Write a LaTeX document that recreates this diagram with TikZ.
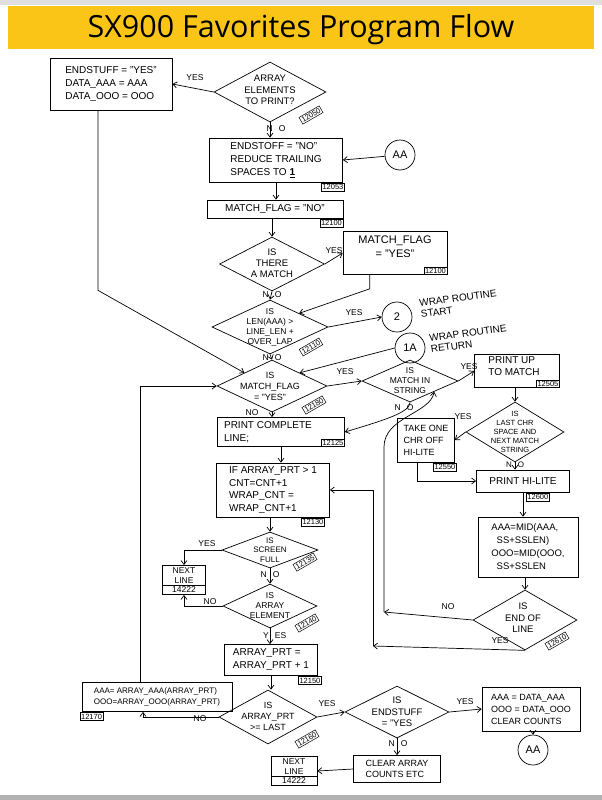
\documentclass[tikz,border=0pt]{standalone}
\usepackage{fontspec}
\setmainfont{Liberation Sans}
\newfontfamily\titlefont{Open Sans}
\usetikzlibrary{shapes.geometric,shapes.multipart,arrows.meta,calc}
\definecolor{gold}{RGB}{251,197,24}
\newcommand\hf[2]{\fontsize{#1}{#2}\selectfont}
\begin{document}
\begin{tikzpicture}[x=1pt,y=-1pt,
  ln/.style={line width=0.7pt},
  arr/.style={ln,-{Straight Barb[length=4pt,width=6pt]}},
  box/.style={draw,ln,inner sep=2pt,align=left,font=\hf{10}{13}},
  frame/.style={draw,ln,inner sep=0pt},
  btxt/.style={align=left,inner sep=0pt,font=\hf{10}{12.5}},
  dia/.style={draw,ln,diamond,inner sep=0pt},
  dtxt/.style={align=center,inner sep=0pt,font=\hf{8.5}{10}},
  tag/.style={draw,line width=0.5pt,inner sep=1.2pt,font=\hf{7.5}{8}},
  lbl/.style={inner sep=0pt,font=\hf{8.5}{10}},
  circ/.style={draw,ln,circle,minimum size=30pt,inner sep=0pt,font=\hf{11}{12}},
  note/.style={align=left,inner sep=0pt,font=\hf{10}{11}},
  split/.style={draw,ln,rectangle split,rectangle split parts=2,align=center,inner sep=1.5pt,font=\hf{8.5}{10}}
]
\useasboundingbox (0,0) rectangle (602,800);
\fill[white] (0,0) rectangle (602,800);
\fill[gray!25] (0,0) rectangle (602,5);
\fill[gray!60] (0,795) rectangle (602,800);
% title
\fill[gold] (8,6) rectangle (594,49);
\node[font=\titlefont\hf{30.5}{32},inner sep=0pt] (title) at (301,30) {SX900 Favorites Program Flow};

% top
\node[box,minimum width=122pt,minimum height=52pt] (n1) at (111,84) {ENDSTUFF = "YES"\\DATA\_AAA = AAA\\DATA\_OOO = OOO};
\node[dia,minimum width=112pt,minimum height=60pt] (d1) at (270,92) {};
\node[dtxt,font=\hf{9.5}{11.5}] (d1t) at (270,90) {ARRAY\\ELEMENTS\\TO PRINT?};
\node[tag,rotate=30] (d1n) at (311,115) {12050};
\node[lbl] (y1) at (195,78) {YES};
\draw[arr] (d1.west) -- (n1.east);
\node[lbl] (no1) at (276,129) {N\hspace{6pt}O};

\node[box,minimum width=133pt,minimum height=44pt] (b2) at (276,160) {ENDSTOFF = "NO"\\REDUCE TRAILING\\SPACES TO \underline{\textbf{1}}};
\node[tag,anchor=north east] (b2n) at ([xshift=2pt,yshift=-0.5pt]b2.south east) {12053};
\draw[arr] (d1.south) -- (d1.south |- b2.north);
\node[circ] (aa1) at (400,155) {AA};
\draw[arr] (aa1) -- (b2.east);

\node[box,minimum width=136pt,minimum height=18pt,align=center] (b3) at (275,209) {MATCH\_FLAG = "NO"};
\node[tag,anchor=north east] (b3n) at ([yshift=-0.5pt]b3.south east) {12100};
\draw[arr] (b2.south) -- (b2.south |- b3.north);

% there a match
\node[dia,minimum width=105pt,minimum height=54pt] (d2) at (272,264) {};
\node[dtxt,font=\hf{9.5}{11}] (d2t) at (272,263) {IS\\THERE\\A MATCH};
\draw[arr] (b3.south -| d2.north) -- (d2.north);
\node[frame,minimum width=104pt,minimum height=43pt] (b4) at (395,253) {};
\node[align=center,inner sep=0pt,font=\hf{11}{14}] (b4t) at (395,247) {MATCH\_FLAG\\= "YES"};
\node[tag,anchor=south east] (b4n) at (b4.south east) {12100};
\node[lbl] (y2) at (334,251) {YES};
\draw[arr] (d2.east) -- (b4.west);
\node[lbl] (no2) at (272,295) {N\hspace{6pt}O};

% len
\node[dia,minimum width=116pt,minimum height=54pt] (d3) at (270,327) {};
\node[dtxt] (d3t) at (270,327) {IS\\LEN(AAA) \textgreater\\LINE\_LEN +\\OVER\_LAP};
\node[tag,rotate=30] (d3n) at (311,347) {12110};
\draw[arr] (d2.south) -- (d3.north);
\draw[arr] ([xshift=27pt]b4.south west) -- ++(0,14) -- (d3.north east);
\node[circ] (c2) at (397,317) {2};
\node[lbl] (y3) at (354,313) {YES};
\draw[arr] (d3.east) -- (c2.west);
\node[note,rotate=8,anchor=west] (w1) at (420,309) {WRAP ROUTINE\\START};
\node[lbl] (no3) at (272,358) {N\hspace{6pt}O};

% match flag yes
\node[dia,minimum width=110pt,minimum height=52pt] (d4) at (272,386) {};
\node[dtxt,font=\hf{9}{11}] (d4t) at (270,386) {IS\\MATCH\_FLAG\\= "YES"};
\node[tag,rotate=30] (d4n) at (314,405) {12180};
\draw[arr] (d3.south) -- (d4.north);
\node[circ] (c1a) at (410,348) {1A};
\node[note,rotate=8,anchor=west] (w2) at (430,344) {WRAP ROUTINE\\RETURN};
\draw[arr] (c1a.west) -- (d4.north east);
\draw[arr] ([xshift=-13pt]n1.south) -- ++(0,180) -- (d4.north west);

% match in string
\node[dia,minimum width=96pt,minimum height=42pt] (d5) at (410,381) {};
\node[dtxt] (d5t) at (410,381) {IS\\MATCH IN\\STRING};
\node[lbl] (y4) at (345,372) {YES};
\draw[arr] (d4.east) -- (d5.west);
\node[frame,minimum width=85pt,minimum height=33pt] (b5) at (517,371) {};
\node[btxt] (b5t) at (514,366) {PRINT UP\\TO MATCH};
\node[tag,anchor=south east] (b5n) at (b5.south east) {12505};
\node[lbl] (y5) at (469,367) {YES};
\draw[arr] (d5.east) -- (b5.west);

% last chr
\node[dia,minimum width=98pt,minimum height=60pt] (d6) at (515,432) {};
\node[dtxt,font=\hf{7.5}{8.8}] (d6t) at (515,432) {IS\\LAST CHR\\SPACE AND\\NEXT MATCH\\STRING};
\draw[arr] (b5.south -| d6.north) -- (d6.north);
\node[box,minimum width=57pt,minimum height=44pt,font=\hf{9}{12}] (b6) at (426,440) {TAKE ONE\\CHR OFF\\HI-LITE};
\node[tag,anchor=north east] (b6n) at ([xshift=2pt,yshift=-0.5pt]b6.south east) {12550};
\node[lbl] (y6) at (463,417) {YES};
\draw[arr] (d6.west) -- (b6.east);
\node[box,minimum width=93pt,minimum height=22pt,align=center] (b7) at (523,481) {PRINT HI-LITE};
\node[tag,anchor=north west] (b7n) at ([xshift=3pt,yshift=-0.5pt]b7.south) {12600};
\node[lbl,font=\hf{8}{9}] (no6) at (515,465) {N\hspace{6pt}O};
\draw[arr] (d6.south) -- (d6.south |- b7.north);
\draw[arr] ([xshift=20pt]b6.south west) |- (b7.west);

\node[box,minimum width=100pt,minimum height=60pt,font=\hf{9.5}{13}] (b8) at (528,547) {AAA=MID(AAA,\\\ \ SS+SSLEN)\\OOO=MID(OOO,\\\ \ SS+SSLEN};
\draw[arr] (b7.south) -- (b7.south |- b8.north);

% end of line
\node[dia,minimum width=104pt,minimum height=60pt] (d7) at (525,620) {};
\node[dtxt,font=\hf{9.5}{11.5}] (d7t) at (523,618) {IS\\END OF\\LINE};
\node[tag,rotate=30] (d7n) at (557,641) {12610};
\draw[arr] (b8.south -| d7.north) -- (d7.north);
\coordinate (j1) at (384,612);
\node[lbl] (no7) at (448,607) {NO};
\draw[arr] (d7.west) -- (j1);
\draw[arr] (j1) -- ++(0,-165) .. controls +(0,-30) and +(-4,22) .. (d5.south east);
\coordinate (j2) at (373,646);
\node[lbl] (y7) at (500,641) {YES};
\draw[arr] (d7.south) -- (j2);

% left column
\node[frame,minimum width=127pt,minimum height=29pt] (b9) at (281,432) {};
\node[btxt] (b9t) at (268,432) {PRINT COMPLETE\\LINE;};
\node[tag,anchor=south east] (b9n) at (b9.south east) {12125};
\node[lbl] (no4) at (252,413) {NO};
\draw[arr] (d4.south) -- (d4.south |- b9.north);
\node[lbl] (no5) at (404,408) {N\hspace{6pt}O};
\draw[arr] (d5.south) .. controls +(0,10) and +(40,-12) .. (b9.east);

\node[box,minimum width=113pt,minimum height=54pt,font=\hf{10}{12.5}] (b10) at (273,490) {IF ARRAY\_PRT \textgreater{} 1\\CNT=CNT+1\\WRAP\_CNT =\\WRAP\_CNT+1};
\node[tag,anchor=north east] (b10n) at ([xshift=-5pt,yshift=-0.5pt]b10.south east) {12130};
\draw[arr] (b9.south) -- (b9.south |- b10.north);
\draw[arr] (j2) |- (b10.east);

\node[dia,minimum width=96pt,minimum height=36pt] (d8) at (270,550) {};
\node[dtxt,font=\hf{8}{9.5}] (d8t) at (270,550) {IS\\SCREEN\\FULL};
\node[tag,rotate=30] (d8n) at (305,562) {12135};
\draw[arr] (b10.south -| d8.north) -- (d8.north);
\node[split,minimum width=43pt] (b11) at (184,580) {NEXT\\LINE\nodepart{two}14222};
\node[lbl] (y8) at (207,544) {YES};
\draw[arr] (d8.west) -| (b11.north);

\node[dia,minimum width=94pt,minimum height=44pt] (d9) at (270,606) {};
\node[dtxt] (d9t) at (270,606) {IS\\ARRAY\\ELEMENT};
\node[tag,rotate=30] (d9n) at (307,623) {12140};
\node[lbl] (no8) at (270,575) {N\hspace{6pt}O};
\draw[arr] (d8.south) -- (d9.north);
\node[lbl] (no9) at (210,602) {NO};
\draw[arr] (d9.west) -| (b11.south);

\node[box,minimum width=93pt,minimum height=31pt] (b12) at (271,660) {ARRAY\_PRT =\\ARRAY\_PRT + 1};
\node[tag,anchor=north east] (b12n) at ([xshift=4pt,yshift=-0.5pt]b12.south east) {12150};
\node[lbl,anchor=west] (y9) at (263,636) {Y\hspace{6pt}ES};
\draw[arr] (d9.south) -- (d9.south |- b12.north);

\node[dia,minimum width=98pt,minimum height=54pt] (d10) at (268,717) {};
\node[dtxt,font=\hf{9}{11}] (d10t) at (268,716) {IS\\ARRAY\_PRT\\\textgreater= LAST};
\node[tag,rotate=30] (d10n) at (307,739) {12160};
\draw[arr] (b12.south) -- (b12.south |- d10.north);

\node[box,minimum width=150pt,minimum height=29pt,font=\hf{8}{11}] (b13) at (157,697) {AAA= ARRAY\_AAA(ARRAY\_PRT)\\OOO=ARRAY\_OOO(ARRAY\_PRT)};
\node[tag,anchor=north west] (b13n) at ([xshift=-2pt,yshift=-0.5pt]b13.south west) {12170};
\node[lbl] (no10) at (200,719) {NO};
\draw[arr] (d10.west) -| ([xshift=-14pt]b13.south);
\draw[arr] ([xshift=-17pt]b13.north) |- (d4.west);

\node[dia,minimum width=104pt,minimum height=52pt] (d11) at (397,712) {};
\node[dtxt,font=\hf{9.5}{11.5}] (d11t) at (397,712) {IS\\ENDSTUFF\\= "YES};
\node[lbl] (y10) at (327,704) {YES};
\draw[arr] (d10.east) -- (d11.west);
\node[box,minimum width=98pt,minimum height=44pt,font=\hf{9}{12}] (b14) at (531,709) {AAA = DATA\_AAA\\OOO = DATA\_OOO\\CLEAR COUNTS};
\node[lbl] (y11) at (465,702) {YES};
\draw[arr] (d11.east) -- (b14.west);
\node[circ] (aa2) at (533,750) {AA};
\draw[arr] (b14.south -| aa2.north) -- (aa2.north);

\node[box,minimum width=87pt,minimum height=27pt,font=\hf{9}{11}] (b15) at (397,769) {CLEAR ARRAY\\COUNTS ETC};
\node[lbl] (no11) at (398,744) {N\hspace{6pt}O};
\draw[arr] (d11.south) -- (b15.north);
\node[split,minimum width=46pt] (b16) at (294,771) {NEXT\\LINE\nodepart{two}14222};
\draw[arr] (b15.west) -- (b16.east);
\end{tikzpicture}
\end{document}
